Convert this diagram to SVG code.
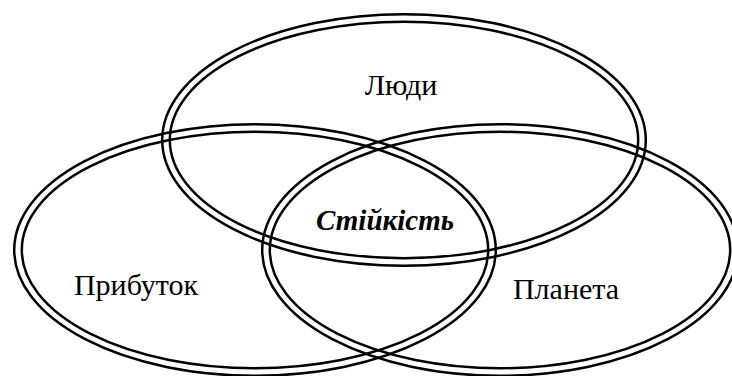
<svg xmlns="http://www.w3.org/2000/svg" width="732" height="376" viewBox="0 0 732 376">
<style>
.ln{fill:none;stroke:#000;stroke-width:2.5}
.t{font-family:"Liberation Serif","Times New Roman",serif;font-size:30px;fill:#000;text-anchor:middle}
.b{font-weight:bold;font-style:italic;font-size:29px}
</style>
<rect width="732" height="376" fill="#fff"/>
<g id="lyudy">
<ellipse class="ln" cx="404" cy="140" rx="241.8" ry="125.8"/>
<ellipse class="ln" cx="404" cy="140" rx="234.2" ry="118.2"/>
<text class="t" x="401" y="95">Люди</text>
</g>
<g id="prybutok">
<ellipse class="ln" cx="255" cy="250" rx="240.8" ry="125.8"/>
<ellipse class="ln" cx="255" cy="250" rx="233.2" ry="118.2"/>
<text class="t" x="136" y="295">Прибуток</text>
</g>
<g id="planeta">
<ellipse class="ln" cx="500" cy="250" rx="237.8" ry="125.8"/>
<ellipse class="ln" cx="500" cy="250" rx="230.2" ry="118.2"/>
<text class="t" x="566" y="299">Планета</text>
</g>
<g id="stiykist">
<text class="t b" x="385" y="230">Стійкість</text>
</g>
<g id="connectors"/>
</svg>
